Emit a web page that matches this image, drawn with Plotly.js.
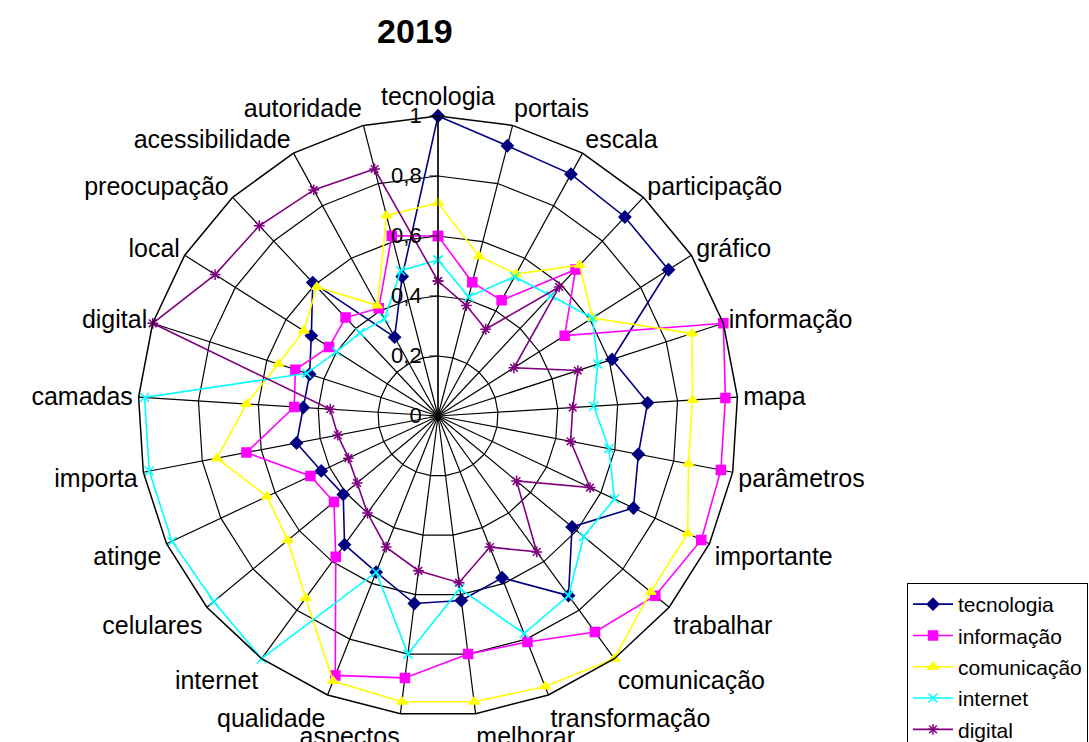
<!DOCTYPE html>
<html>
<head>
<meta charset="utf-8">
<script src="https://cdn.plot.ly/plotly-3.0.1.min.js"></script>
<style>html,body{margin:0;padding:0;background:#fff;overflow:hidden}#chart{width:1089px;height:742px}</style>
</head>
<body>
<div id="chart"></div>
<script>
const categories = ['tecnologia','portais','escala','participação','gráfico','informação','mapa','parâmetros','importante','trabalhar','comunicação','transformação','melhorar','aspectos','qualidade','internet','celulares','atinge','importa','camadas','digital','local','preocupação','acessibilidade','autoridade'];

const seriesNames = ['tecnologia','informação','comunicação','internet','digital'];

const tecnologia = [1.00,0.93,0.92,0.91,0.91,0.61,0.70,0.68,0.72,0.58,0.74,0.58,0.62,0.63,0.56,0.53,0.41,0.43,0.48,0.45,0.45,0.50,0.61,0.30,0.48];
const informacao = [0.60,0.46,0.44,0.67,0.50,1.00,0.96,0.96,0.97,0.94,0.89,0.81,0.80,0.88,0.93,0.58,0.45,0.47,0.65,0.48,0.50,0.43,0.45,0.41,0.62];
const comunicacao = [0.71,0.55,0.54,0.69,0.61,0.89,0.85,0.85,0.92,0.92,1.00,0.97,0.96,0.96,0.95,0.75,0.65,0.63,0.75,0.64,0.56,0.53,0.59,0.42,0.69];
const internet = [0.52,0.41,0.53,0.55,0.61,0.56,0.52,0.58,0.65,0.63,0.74,0.78,0.58,0.80,0.56,1.00,0.97,0.98,0.98,0.98,0.46,0.40,0.38,0.37,0.50];
const digital = [0.45,0.38,0.33,0.59,0.30,0.49,0.45,0.45,0.56,0.34,0.56,0.47,0.56,0.52,0.47,0.40,0.35,0.33,0.34,0.36,1.00,0.88,0.87,0.86,0.85];

const radialTicks = [0,0.2,0.4,0.6,0.8,1];
const radialTickText = ['0','0,2','0,4','0,6','0,8','1'];

const values = [tecnologia, informacao, comunicacao, internet, digital];
const colors = ['#000080','#FF00FF','#FFFF00','#00FFFF','#800080'];
const symbols = ['diamond','square','triangle-up','x-thin-open','asterisk-open'];
const msizes = [9,9,9,9,9];

const traces = values.map((v,i)=>({
  type:'scatterpolar',
  name: seriesNames[i],
  legendgroup: 'g'+i,
  r: v.concat([v[0]]),
  theta: categories.concat([categories[0]]),
  mode:'lines+markers',
  line:{color:colors[i], width:1.6},
  marker:{symbol:symbols[i], size:msizes[i], color:colors[i], line:{color:colors[i], width:1.5}},
  cliponaxis:false
}));

const F = '"Liberation Sans", Arial, sans-serif';
const layout = {
  width:1089, height:742,
  margin:{l:0,r:0,t:0,b:0,autoexpand:false},
  paper_bgcolor:'#fff',
  font:{family:F, color:'#000'},
  title:{text:'<b>2019</b>', font:{size:34, family:F, color:'#000'}, x:0.381, xanchor:'center', xref:'paper', y:0.958, yanchor:'middle', yref:'container'},
  showlegend:true,
  legend:{x:907/1089, xanchor:'left', y:(742-583)/742, yanchor:'top', bgcolor:'#fff', bordercolor:'#000', borderwidth:1, font:{size:21, family:F, color:'#000'}, tracegroupgap:1, itemwidth:40},
  polar:{
    domain:{x:[138/1089, 738/1089], y:[(742-716)/742, (742-116)/742]},
    bgcolor:'#fff',
    gridshape:'linear',
    angularaxis:{type:'category', categoryarray:categories, direction:'clockwise', rotation:90, showgrid:true, gridcolor:'#000', gridwidth:1.2, showline:true, linecolor:'#000', linewidth:1.5, ticks:'', tickfont:{size:25, family:F, color:'#000'}},
    radialaxis:{range:[0,1], angle:90, side:'counterclockwise', tickangle:90, tickvals:radialTicks, ticktext:radialTickText, tickfont:{size:22, family:F, color:'#000'}, showgrid:true, gridcolor:'#000', gridwidth:1.2, showline:true, linecolor:'#000', linewidth:1.2, ticks:'outside', ticklen:8, tickcolor:'#000'}
  }
};

Plotly.newPlot('chart', traces, layout, {displayModeBar:false, staticPlot:true});
</script>
</body>
</html>
